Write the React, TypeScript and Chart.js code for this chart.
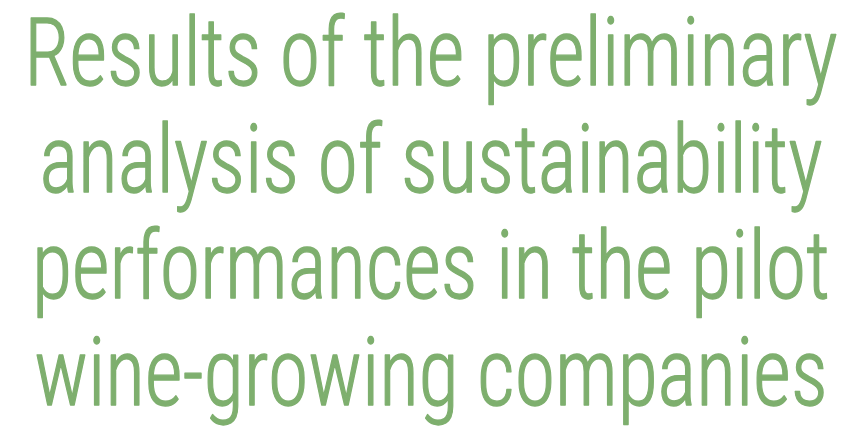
import React, { useEffect, useRef } from "react";
import { Chart, registerables } from "chart.js";

Chart.register(...registerables);

const titleLines: string[] = [
  "Results of the preliminary",
  "analysis of sustainability",
  "performances in the pilot",
  "wine-growing companies",
];
const categories: string[] = [];
const seriesValues: number[] = [];

const TEXT_COLOR = "#7EAF6E";
const FONT_SIZE = 95;
const LINE_HEIGHT = 106.7;
const FIRST_BASELINE = 85;
const CENTER_X = 431;
const H_SCALE = 0.865;

const condensedTitle = {
  id: "condensedTitle",
  afterDraw(chart: any) {
    const ctx = chart.ctx as CanvasRenderingContext2D;
    ctx.save();
    ctx.fillStyle = TEXT_COLOR;
    ctx.strokeStyle = TEXT_COLOR;
    ctx.lineWidth = 1.3;
    ctx.lineJoin = "round";
    ctx.font = `300 ${FONT_SIZE}px 'Roboto Condensed', 'DejaVu Sans Condensed', sans-serif`;
    ctx.textAlign = "center";
    ctx.textBaseline = "alphabetic";
    titleLines.forEach((line, i) => {
      ctx.save();
      ctx.translate(CENTER_X, FIRST_BASELINE + i * LINE_HEIGHT);
      ctx.scale(H_SCALE, 1);
      ctx.fillText(line, 0, 0);
      ctx.strokeText(line, 0, 0);
      ctx.restore();
    });
    ctx.restore();
  },
};

export default function App() {
  const ref = useRef<HTMLCanvasElement | null>(null);
  useEffect(() => {
    document.body.style.margin = "0";
    if (!ref.current) return;
    const chart = new Chart(ref.current, {
      type: "bar",
      data: {
        labels: categories,
        datasets: [{ data: seriesValues, backgroundColor: TEXT_COLOR }],
      },
      options: {
        animation: false,
        responsive: true,
        maintainAspectRatio: false,
        scales: { x: { display: false }, y: { display: false } },
        plugins: {
          legend: { display: false },
          tooltip: { enabled: false },
          title: { display: false },
        },
      },
      plugins: [condensedTitle],
    });
    return () => chart.destroy();
  }, []);
  return (
    <div style={{ width: 856, height: 430, position: "relative" }}>
      <canvas ref={ref} />
    </div>
  );
}
